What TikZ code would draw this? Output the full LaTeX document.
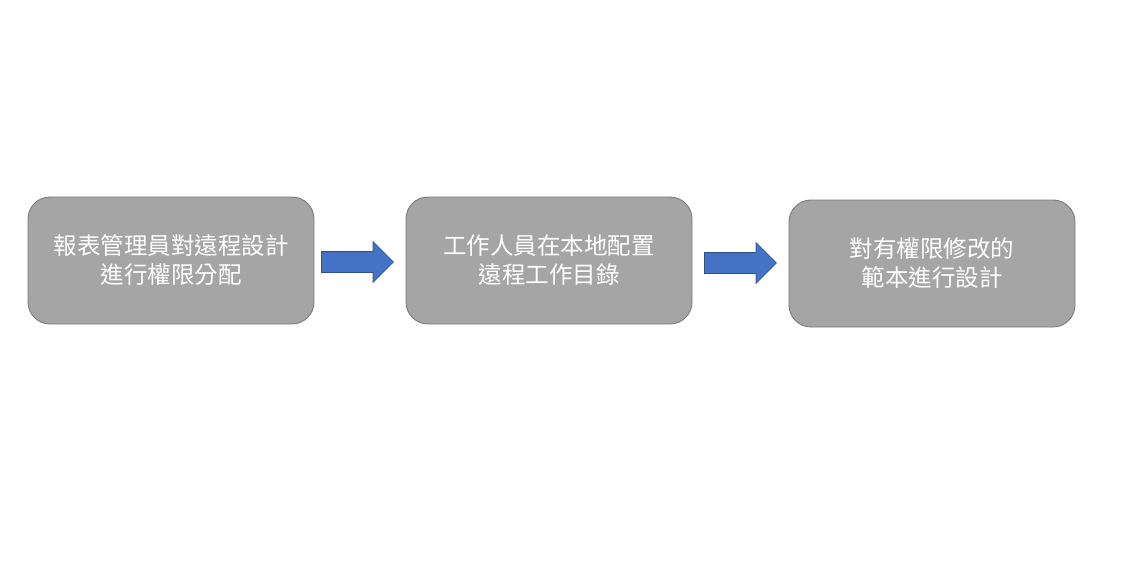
\documentclass[tikz,border=0pt]{standalone}
\usepackage{fontspec}
\usepackage{tikz}
\usetikzlibrary{shapes.arrows}
\newfontfamily\tcfont{Noto Sans CJK TC}
\definecolor{boxgray}{HTML}{A5A5A5}
\definecolor{boxline}{HTML}{7A7A7A}
\definecolor{arrblue}{HTML}{4472C4}
\definecolor{arrline}{HTML}{2F528F}
\tikzset{
  stepbox/.style={draw=boxline, fill=boxgray, line width=0.9pt, rounded corners=22pt,
    minimum width=286pt, minimum height=127pt, align=center, text=white,
    font=\tcfont\fontsize{23.5}{29}\selectfont},
  blockarrow/.style={single arrow, draw=arrline, fill=arrblue, line width=0.8pt,
    inner xsep=0pt, inner ysep=10pt, minimum height=72pt, anchor=tail,
    single arrow head extend=10pt, single arrow tip angle=90},
}
\begin{document}
\begin{tikzpicture}[x=1pt,y=-1pt]
\useasboundingbox (0,0) rectangle (1138,583);
\node[stepbox] (assign) at (171, 260.5) {報表管理員對遠程設計\\進行權限分配};
\node[stepbox] (config) at (549, 260.5) {工作人員在本地配置\\遠程工作目錄};
\node[stepbox] (design) at (932, 263.5) {對有權限修改的\\範本進行設計};
\node[blockarrow] (arrA) at (321, 262) {};
\node[blockarrow] (arrB) at (704, 263) {};
\end{tikzpicture}
\end{document}
